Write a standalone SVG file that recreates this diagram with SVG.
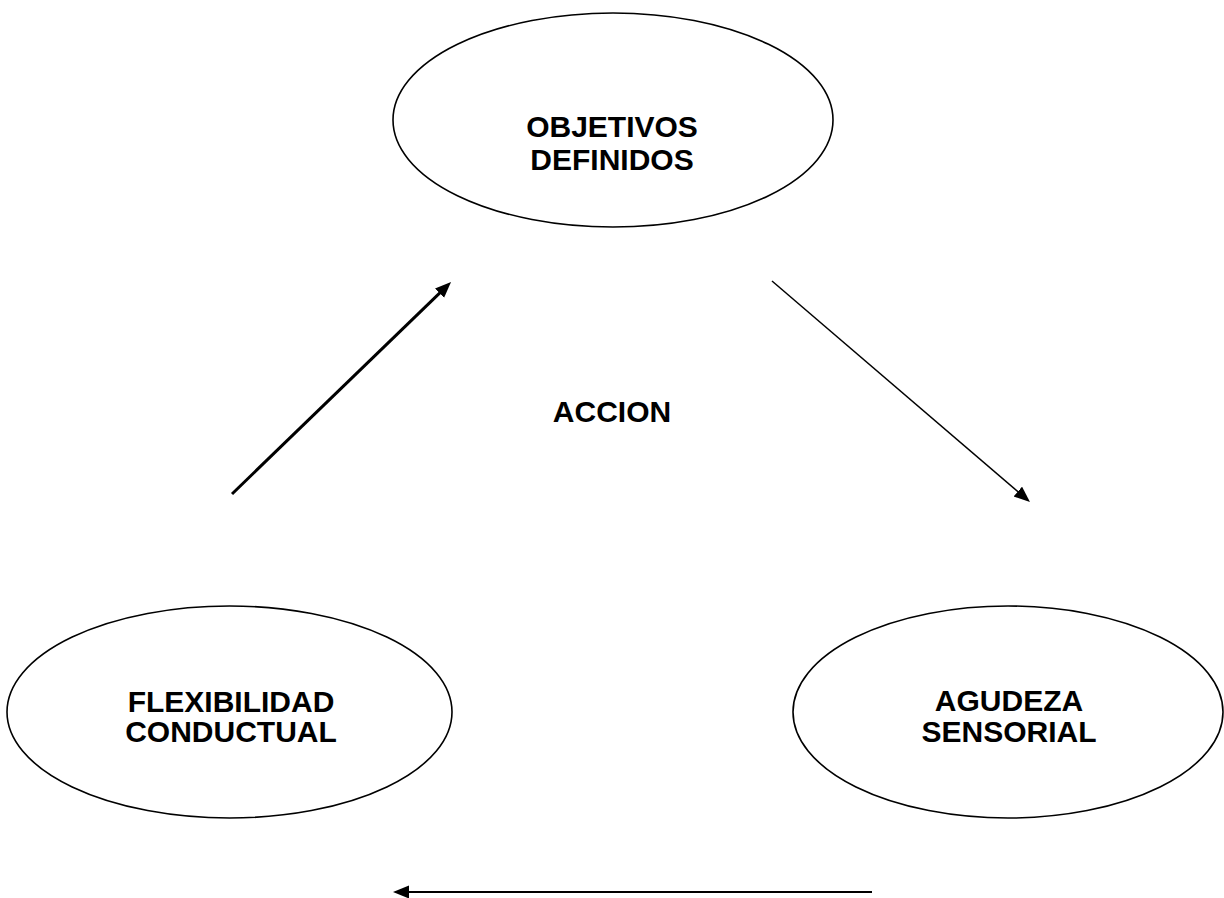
<svg xmlns="http://www.w3.org/2000/svg" width="1224" height="898" viewBox="0 0 1224 898">
  <style>
    .node ellipse { fill: #ffffff; stroke: #000000; stroke-width: 1.6; }
    text { font-family: "Liberation Sans", Arial, sans-serif; font-weight: bold; font-size: 30px; fill: #000000; text-anchor: middle; }
    .conn line { stroke: #000000; fill: none; }
  </style>
  <defs>
    <marker id="arrow" markerUnits="userSpaceOnUse" markerWidth="17" markerHeight="14" refX="8" refY="6.5" orient="auto">
      <path d="M0,0 L16,6.5 L0,13 z" fill="#000000"/>
    </marker>
  </defs>
  <rect x="0" y="0" width="1224" height="898" fill="#ffffff"/>

  <g id="objetivos" class="node">
    <ellipse cx="613" cy="120" rx="220" ry="107"/>
    <text x="612" y="137">OBJETIVOS</text>
    <text x="612" y="170">DEFINIDOS</text>
  </g>

  <g id="flexibilidad" class="node">
    <ellipse cx="229.5" cy="712" rx="222.5" ry="106"/>
    <text x="231" y="712">FLEXIBILIDAD</text>
    <text x="231" y="742">CONDUCTUAL</text>
  </g>

  <g id="agudeza" class="node">
    <ellipse cx="1008" cy="712" rx="215" ry="106"/>
    <text x="1009" y="711">AGUDEZA</text>
    <text x="1009" y="742">SENSORIAL</text>
  </g>

  <g id="accion">
    <text x="612" y="422">ACCION</text>
  </g>

  <g id="connectors" class="conn">
    <line x1="232" y1="494" x2="445.3" y2="287.6" stroke-width="3" marker-end="url(#arrow)"/>
    <line x1="772" y1="281" x2="1023.9" y2="496.8" stroke-width="1.5" marker-end="url(#arrow)"/>
    <line x1="872" y1="892" x2="401" y2="892" stroke-width="2" marker-end="url(#arrow)"/>
  </g>
</svg>
